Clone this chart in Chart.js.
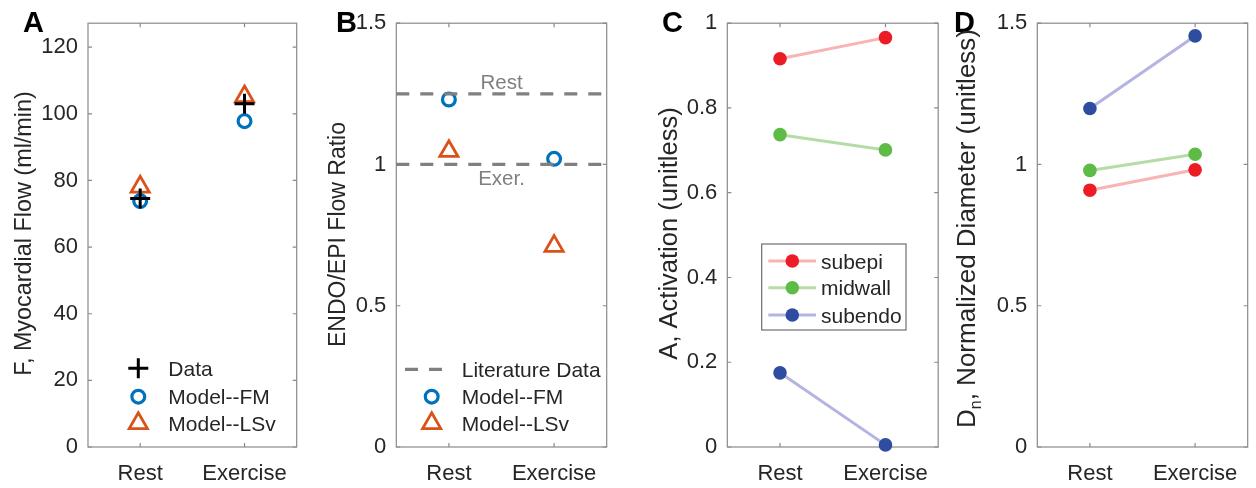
<!DOCTYPE html>
<html><head><meta charset="utf-8">
<script src="https://cdn.jsdelivr.net/npm/chart.js@4.4.0/dist/chart.umd.min.js"></script>
<style>
html,body{margin:0;padding:0;background:#fff;width:1256px;height:488px;overflow:hidden}
.p{position:absolute;top:0;height:488px}
canvas{display:block}
</style></head><body>
<div class="p" style="left:0px;width:310px"><canvas id="ca" width="310" height="488" style="width:310px;height:488px"></canvas></div>
<div class="p" style="left:310px;width:310px"><canvas id="cb" width="310" height="488" style="width:310px;height:488px"></canvas></div>
<div class="p" style="left:620px;width:325px"><canvas id="cc" width="325" height="488" style="width:325px;height:488px"></canvas></div>
<div class="p" style="left:945px;width:311px"><canvas id="cd" width="311" height="488" style="width:311px;height:488px"></canvas></div>
<script>
// ---------------- data ----------------
const categories = ['Rest', 'Exercise'];
// Panel A: myocardial flow (ml/min)
const flowData = [74.6, 103.0];
const flowModelFM = [73.8, 97.8];
const flowModelLSv = [78.1, 105.2];
const ticksA = [0, 20, 40, 60, 80, 100, 120];
// Panel B: ENDO/EPI flow ratio
const ratioLitRest = 1.25;
const ratioLitExer = 1.0;
const ratioModelFM = [1.23, 1.02];
const ratioModelLSv = [1.047, 0.711];
const ticksB = [0, 0.5, 1, 1.5];
// Panel C: activation
const actSubepi = [0.916, 0.966];
const actMidwall = [0.737, 0.701];
const actSubendo = [0.175, 0.005];
const ticksC = [0, 0.2, 0.4, 0.6, 0.8, 1];
// Panel D: normalized diameter
const diamSubepi = [0.909, 0.981];
const diamMidwall = [0.979, 1.036];
const diamSubendo = [1.198, 1.455];
const ticksD = [0, 0.5, 1, 1.5];
const layerNames = ['subepi', 'midwall', 'subendo'];

// ---------------- styles ----------------
const FONT = "'Liberation Sans', Arial, Helvetica, sans-serif";
const AXC = '#8a8a8a';
const TXT = '#262626';
const BLUE = '#0072BD', ORANGE = '#D95319';
const RED = '#EC1C24', GREEN = '#5DBB46', NAVY = '#2E4DA0';
const RED_L = '#F8B3B3', GREEN_L = '#B6DCA6', NAVY_L = '#B4B4E0';
const X_MIN = 0.5, X_MAX = 2.5;
const Y_W = 64;

function pts(arr) { return arr.map((v, i) => ({ x: i + 1, y: v })); }
function flat(v) { return [{ x: X_MIN, y: v }, { x: X_MAX, y: v }]; }

function marker(color, style, r, bw, fill) {
  return {
    showLine: false, clip: false,
    pointStyle: style, pointRadius: r, pointHoverRadius: r,
    pointBorderWidth: bw, pointHoverBorderWidth: bw,
    pointBorderColor: color, pointBackgroundColor: fill || 'rgba(0,0,0,0)',
    borderColor: color, backgroundColor: fill || 'rgba(0,0,0,0)'
  };
}
function lineSeries(label, arr, lineC, ptC) {
  return {
    label, data: pts(arr), showLine: true, clip: false,
    borderColor: lineC, borderWidth: 3, backgroundColor: ptC,
    pointStyle: 'circle', pointRadius: 6.8, pointHoverRadius: 6.8,
    pointBackgroundColor: ptC, pointBorderColor: ptC, pointBorderWidth: 0
  };
}

function drawMarker(ctx, ds, x, y) {
  ctx.save();
  ctx.strokeStyle = ds.pointBorderColor;
  ctx.fillStyle = ds.pointBackgroundColor;
  ctx.lineWidth = ds.pointBorderWidth;
  Chart.helpers.drawPoint(ctx, { pointStyle: ds.pointStyle, radius: ds.pointRadius, rotation: 0, borderWidth: ds.pointBorderWidth }, x, y);
  ctx.restore();
}

function makePanel(id, divLeft, divWidth, plotLeft, plotRight, yMin, yMax, yTicks, datasets, o) {
  const plugin = {
    id: 'deco_' + id,
    beforeDatasetsDraw(chart) {
      const { ctx, chartArea: a, scales: { x, y } } = chart;
      ctx.save();
      ctx.strokeStyle = AXC; ctx.lineWidth = 1.2;
      ctx.strokeRect(a.left, a.top, a.right - a.left, a.bottom - a.top);
      ctx.beginPath();
      y.ticks.forEach(t => {
        const py = y.getPixelForValue(t.value);
        ctx.moveTo(a.left, py); ctx.lineTo(a.left + 4, py);
        ctx.moveTo(a.right, py); ctx.lineTo(a.right - 4, py);
      });
      x.ticks.forEach(t => {
        const px = x.getPixelForValue(t.value);
        ctx.moveTo(px, a.bottom); ctx.lineTo(px, a.bottom - 4);
        ctx.moveTo(px, a.top); ctx.lineTo(px, a.top + 4);
      });
      ctx.stroke();
      ctx.restore();
    },
    afterDraw(chart) {
      const { ctx, chartArea: a, scales: { x, y } } = chart;
      const ds = chart.data.datasets;
      ctx.save();
      // panel letter
      ctx.fillStyle = '#000';
      ctx.font = 'bold 29px ' + FONT;
      ctx.textAlign = 'left'; ctx.textBaseline = 'alphabetic';
      ctx.fillText(o.letter, o.letterX - divLeft, 32);
      // y-axis title (rotated)
      ctx.save();
      const tx = o.titleX - divLeft + 0.358 * o.titleSize;
      ctx.translate(tx, o.titleY);
      ctx.rotate(-Math.PI / 2);
      ctx.fillStyle = TXT;
      ctx.textBaseline = 'alphabetic';
      const mainFont = o.titleSize + 'px ' + FONT;
      const subFont = Math.round(o.titleSize * 0.62) + 'px ' + FONT;
      const parts = o.titleParts;
      let total = 0;
      parts.forEach(p => { ctx.font = p.sub ? subFont : mainFont; p.w = ctx.measureText(p.t).width; total += p.w; });
      let cx = -total / 2;
      ctx.textAlign = 'left';
      parts.forEach(p => {
        ctx.font = p.sub ? subFont : mainFont;
        ctx.fillText(p.t, cx, p.sub ? o.titleSize * 0.22 : 0);
        cx += p.w;
      });
      ctx.restore();
      // legend
      if (o.legend) {
        const L = o.legend;
        if (L.box) {
          ctx.fillStyle = '#fff';
          ctx.fillRect(L.box[0] - divLeft, L.box[1], L.box[2] - L.box[0], L.box[3] - L.box[1]);
          ctx.strokeStyle = '#6e6e6e'; ctx.lineWidth = 1.2;
          ctx.strokeRect(L.box[0] - divLeft, L.box[1], L.box[2] - L.box[0], L.box[3] - L.box[1]);
        }
        L.items.forEach((it, k) => {
          const d = ds[it.ds];
          const ry = L.rows[k];
          if (it.line) {
            ctx.save();
            ctx.strokeStyle = d.borderColor; ctx.lineWidth = d.borderWidth;
            ctx.setLineDash(d.borderDash || []);
            ctx.beginPath();
            ctx.moveTo(L.lineX0 - divLeft, ry); ctx.lineTo(L.lineX1 - divLeft, ry);
            ctx.stroke();
            ctx.restore();
          }
          if (!it.noMarker) drawMarker(ctx, d, L.markerX - divLeft, ry);
          ctx.fillStyle = TXT;
          ctx.font = '21px ' + FONT;
          ctx.textAlign = 'left'; ctx.textBaseline = 'alphabetic';
          ctx.fillText(it.label || d.label, L.textX - divLeft, ry + 0.358 * 21);
        });
      }
      // inline annotations
      if (o.notes) {
        o.notes.forEach(n => {
          ctx.fillStyle = '#808080';
          ctx.font = '20.5px ' + FONT;
          ctx.textAlign = 'center'; ctx.textBaseline = 'alphabetic';
          const cy = y.getPixelForValue(n.y) + n.dy;
          ctx.fillText(n.text, x.getPixelForValue(n.x), cy + 0.358 * 20.5);
        });
      }
      ctx.restore();
    }
  };
  return new Chart(document.getElementById(id), {
    type: 'scatter',
    data: { datasets },
    options: {
      responsive: false, animation: false, events: [],
      layout: { padding: { left: plotLeft - divLeft - Y_W, right: divLeft + divWidth - plotRight, top: 20, bottom: 0 } },
      plugins: { legend: { display: false }, tooltip: { enabled: false } },
      scales: {
        x: {
          type: 'linear', min: X_MIN, max: X_MAX,
          afterBuildTicks: s => { s.ticks = categories.map((c, i) => ({ value: i + 1 })); },
          afterFit: s => { s.height = 41; },
          grid: { display: false, drawTicks: false }, border: { display: false },
          ticks: { color: TXT, font: { family: FONT, size: 22 }, padding: 14, maxRotation: 0, autoSkip: false,
                   callback: v => categories[Math.round(v) - 1] }
        },
        y: {
          type: 'linear', min: yMin, max: yMax,
          afterBuildTicks: s => { s.ticks = yTicks.map(v => ({ value: v })); },
          afterFit: s => { s.width = Y_W; },
          grid: { display: false, drawTicks: false }, border: { display: false },
          ticks: { color: TXT, font: { family: FONT, size: 22 }, padding: 10, callback: v => String(v) }
        }
      }
    },
    plugins: [plugin]
  });
}

// ---------- Panel A ----------
makePanel('ca', 0, 310, 88, 302, 0, 127.2, ticksA, [
  Object.assign({ label: 'Data', data: pts(flowData) }, marker('#000000', 'cross', 10, 3)),
  Object.assign({ label: 'Model--FM', data: pts(flowModelFM) }, marker(BLUE, 'circle', 6.4, 3.2)),
  Object.assign({ label: 'Model--LSv', data: pts(flowModelLSv) }, marker(ORANGE, 'triangle', 10.5, 2.8))
], {
  letter: 'A', letterX: 23,
  titleParts: [{ t: 'F, Myocardial Flow (ml/min)' }], titleX: 22.5, titleY: 233.5, titleSize: 23.4,
  legend: { markerX: 138.3, textX: 168.3, rows: [368.3, 396.7, 423.3],
            items: [{ ds: 0 }, { ds: 1 }, { ds: 2 }] }
});

// ---------- Panel B ----------
const litStyle = { showLine: true, clip: false, borderColor: '#808080', borderWidth: 3.2, borderDash: [13, 11], pointRadius: 0, pointHoverRadius: 0 };
makePanel('cb', 310, 310, 396.3, 610, 0, 1.5, ticksB, [
  Object.assign({ label: 'Literature Data', data: flat(ratioLitRest) }, litStyle),
  Object.assign({ label: 'Literature Data', data: flat(ratioLitExer) }, litStyle),
  Object.assign({ label: 'Model--FM', data: pts(ratioModelFM) }, marker(BLUE, 'circle', 6.4, 3.2)),
  Object.assign({ label: 'Model--LSv', data: pts(ratioModelLSv) }, marker(ORANGE, 'triangle', 10.5, 2.8))
], {
  letter: 'B', letterX: 336,
  titleParts: [{ t: 'ENDO/EPI Flow Ratio' }], titleX: 336.5, titleY: 234.5, titleSize: 23,
  legend: { lineX0: 405, lineX1: 445, markerX: 431.7, textX: 461.7, rows: [369.3, 396.7, 423.3],
            items: [{ ds: 0, line: true, noMarker: true }, { ds: 2 }, { ds: 3 }] },
  notes: [{ text: 'Rest', x: 1.5, y: ratioLitRest, dy: -12 }, { text: 'Exer.', x: 1.5, y: ratioLitExer, dy: 13.6 }]
});

// ---------- Panel C ----------
makePanel('cc', 620, 325, 727.3, 940.7, 0, 1, ticksC, [
  lineSeries(layerNames[0], actSubepi, RED_L, RED),
  lineSeries(layerNames[1], actMidwall, GREEN_L, GREEN),
  lineSeries(layerNames[2], actSubendo, NAVY_L, NAVY)
], {
  letter: 'C', letterX: 662,
  titleParts: [{ t: 'A, Activation (unitless)' }], titleX: 667.5, titleY: 233.5, titleSize: 25.5,
  legend: { box: [761.7, 244, 906, 330], lineX0: 768.3, lineX1: 816, markerX: 792.3, textX: 821, rows: [261, 287.7, 315],
            items: [{ ds: 0, line: true }, { ds: 1, line: true }, { ds: 2, line: true }] }
});

// ---------- Panel D ----------
makePanel('cd', 945, 311, 1037.3, 1247.7, 0, 1.5, ticksD, [
  lineSeries(layerNames[0], diamSubepi, RED_L, RED),
  lineSeries(layerNames[1], diamMidwall, GREEN_L, GREEN),
  lineSeries(layerNames[2], diamSubendo, NAVY_L, NAVY)
], {
  letter: 'D', letterX: 954,
  titleParts: [{ t: 'D' }, { t: 'n', sub: true }, { t: ', Normalized Diameter (unitless)' }], titleX: 965.8, titleY: 228.5, titleSize: 26
});
</script>
</body></html>
